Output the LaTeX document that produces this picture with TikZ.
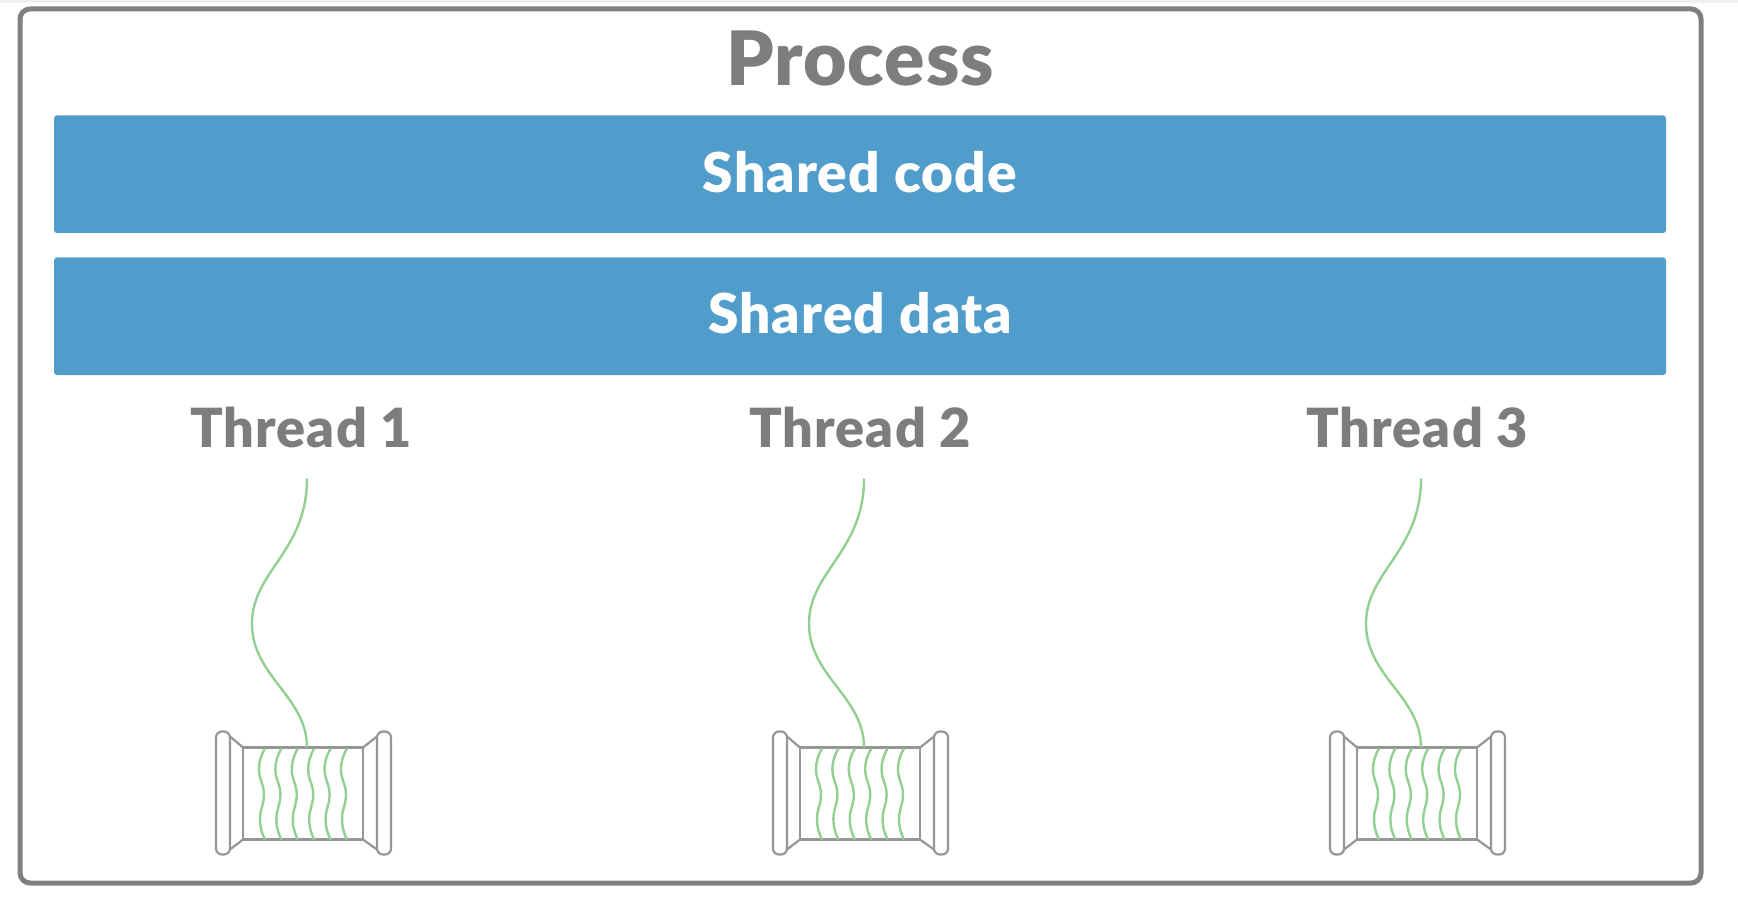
\documentclass[tikz,border=0pt]{standalone}
\usepackage{fontspec}
\setmainfont{Lato}
\newfontfamily\heavyfont[LetterSpace=2.1]{Lato Black}
\newfontfamily\titlefont[LetterSpace=1.3]{Lato Black}
\definecolor{framegray}{RGB}{128,128,128}
\definecolor{textgray}{RGB}{125,125,125}
\definecolor{spoolgray}{RGB}{150,150,150}
\definecolor{barblue}{RGB}{80,156,203}
\definecolor{threadgreen}{RGB}{146,208,146}
\tikzset{
  x=0.5pt,y=-0.5pt,
  frame/.style={draw=framegray,line width=2.5pt,rounded corners=5pt},
  bar/.style={fill=barblue,rounded corners=1.5pt},
  barlabel/.style={anchor=base,text=white,font=\fontsize{27.5}{30}\selectfont\heavyfont,inner sep=0pt},
  titlelabel/.style={anchor=base,text=textgray,font=\fontsize{37.5}{40}\selectfont\titlefont,inner sep=0pt},
  threadlabel/.style={anchor=base,text=textgray,font=\fontsize{27}{30}\selectfont\heavyfont,inner sep=0pt},
  spool/.style={draw=spoolgray,line width=1.1pt},
  flange/.style={draw=spoolgray,line width=1.1pt,rounded corners=3pt},
  yarn/.style={draw=threadgreen,line width=1.2pt},
}
\begin{document}
\begin{tikzpicture}
\useasboundingbox (0,0) rectangle (1738,903);
\fill[white] (0,0) rectangle (1738,903);
\fill[black!6] (0,0) rectangle (1738,3);
\draw[frame] (20,9) rectangle (1701,883);
\coordinate (titlepos) at (860,86);
\node[titlelabel] (title) at (titlepos) {Process};
\path[bar] (54,115.5) rectangle (1666,233);
\path[bar] (54,257.5) rectangle (1666,375);
\coordinate (codepos) at (860,193);
\coordinate (datapos) at (860,334);
\node[barlabel] (code) at (codepos) {Shared code};
\node[barlabel] (data) at (datapos) {Shared data};
\foreach \n/\dx/\lx in {1/0/301,2/557/860,3/1114/1417}{
  \node[threadlabel] (label\n) at (\lx,447) {Thread \n};
  \begin{scope}[xshift=\dx*0.5pt,yshift=-0.75pt]
    \coordinate (top\n) at (307,477);
    \coordinate (base\n) at (307,746);
    \path[flange] (216,730) rectangle (230,853);
    \path[flange] (377,730) rectangle (391,853);
    \path[spool] (243,746) rectangle (363,838);
    \draw[spool] (230,735) -- (243,746);
    \draw[spool] (230,848) -- (243,838);
    \draw[spool] (377,735) -- (363,746);
    \draw[spool] (377,848) -- (363,838);
    \draw[yarn] (top\n) .. controls (307,550) and (252,570) .. (252,622)
                .. controls (252,675) and (307,695) .. (base\n);
    \foreach \w in {0,16.4,32.8,49.2,65.6,82}{
      \begin{scope}[xshift=\w*0.5pt]
      \draw[yarn] (265,747) .. controls (261,754) and (259,760) .. (259,768)
        .. controls (259,778) and (264,783) .. (264,793)
        .. controls (264,803) and (260,808) .. (260,817)
        .. controls (260,826) and (262,832) .. (265,838);
      \end{scope}
    }
  \end{scope}
}
\end{tikzpicture}
\end{document}
